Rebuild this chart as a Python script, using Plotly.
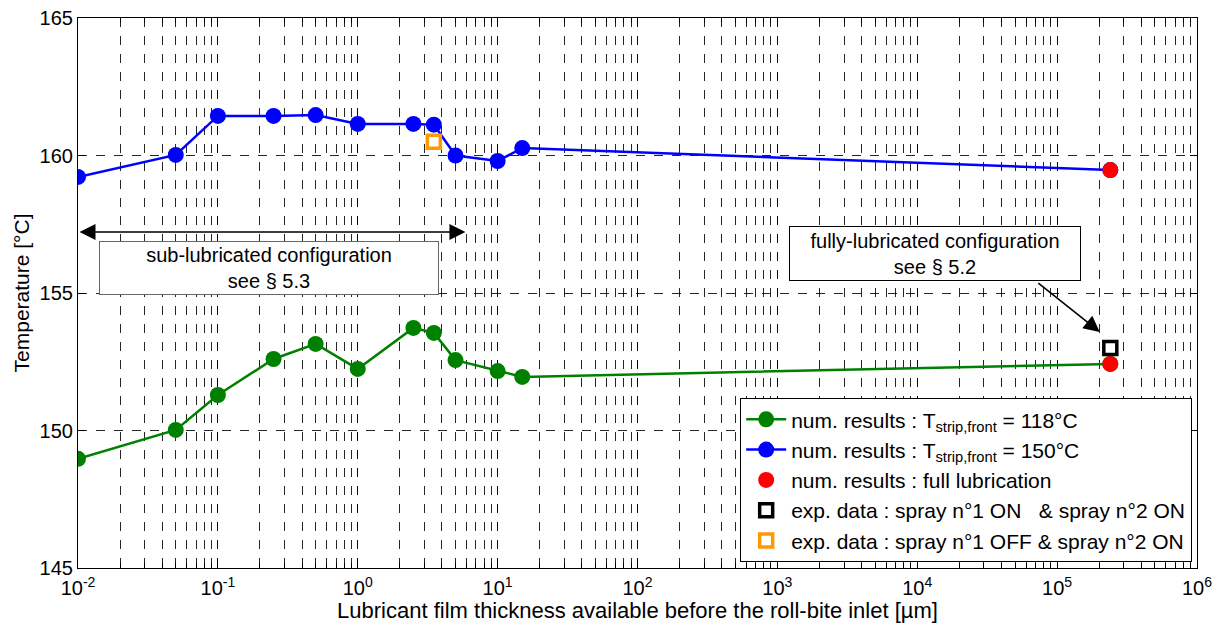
import plotly.graph_objects as go

# ---- data ----
thickness = [0.01, 0.05, 0.1, 0.25, 0.5, 1, 2.5, 3.5, 5, 10, 15, 2.4e5]
temp_118 = [148.97, 150.02, 151.29, 152.6, 153.15, 152.24, 153.73, 153.55, 152.56, 152.16, 151.95, 152.42]
temp_150 = [159.22, 160.02, 161.44, 161.44, 161.47, 161.15, 161.15, 161.12, 160.0, 159.8, 160.27, 159.47]
full_x = [2.4e5, 2.4e5]
full_y = [159.47, 152.42]
exp_on_x = [2.4e5]
exp_on_y = [153.0]
exp_off_x = [3.5]
exp_off_y = [160.5]
xtick_vals = [1e-2, 1e-1, 1e0, 1e1, 1e2, 1e3, 1e4, 1e5, 1e6]
xtick_text = ["10<sup>-2</sup>", "10<sup>-1</sup>", "10<sup>0</sup>", "10<sup>1</sup>",
              "10<sup>2</sup>", "10<sup>3</sup>", "10<sup>4</sup>", "10<sup>5</sup>", "10<sup>6</sup>"]
ytick_vals = [145, 150, 155, 160, 165]

FONT = "Liberation Sans, Arial, sans-serif"

fig = go.Figure()
fig.add_trace(go.Scatter(
    x=thickness, y=temp_118, mode="lines+markers",
    name="num. results : T<sub>strip,front</sub> = 118°C",
    line=dict(color="rgb(0,128,0)", width=2.5),
    marker=dict(color="rgb(0,128,0)", size=16, symbol="circle")))
fig.add_trace(go.Scatter(
    x=thickness, y=temp_150, mode="lines+markers",
    name="num. results : T<sub>strip,front</sub> = 150°C",
    line=dict(color="rgb(0,0,255)", width=2.5),
    marker=dict(color="rgb(0,0,255)", size=16, symbol="circle")))
fig.add_trace(go.Scatter(
    x=full_x, y=full_y, mode="markers",
    name="num. results : full lubrication",
    marker=dict(color="rgb(255,0,0)", size=16, symbol="circle")))
fig.add_trace(go.Scatter(
    x=exp_on_x, y=exp_on_y, mode="markers",
    name="exp. data : spray n°1 ON   & spray n°2 ON",
    marker=dict(color="black", size=13, symbol="square-open", line=dict(width=3.5, color="black"))))
fig.add_trace(go.Scatter(
    x=exp_off_x, y=exp_off_y, mode="markers",
    name="exp. data : spray n°1 OFF & spray n°2 ON",
    marker=dict(color="rgb(255,153,0)", size=13, symbol="square-open", line=dict(width=3.5, color="rgb(255,153,0)"))))

# annotations
fig.add_annotation(x=0.77, y=157.22, ax=-2, ay=157.22, xref="x", yref="y", axref="x", ayref="y",
                   text="", showarrow=True, arrowhead=2, arrowside="end+start",
                   arrowsize=2, arrowwidth=1.6, arrowcolor="black")
fig.add_annotation(x=-0.635, y=155.91, xref="x", yref="y",
                   text="sub-lubricated configuration<br>see § 5.3", showarrow=False,
                   font=dict(family=FONT, size=20, color="black"),
                   bgcolor="white", bordercolor="#666666", borderwidth=1,
                   width=336, height=50)
fig.add_annotation(x=5.305, y=153.58, ax=4.855, ay=155.4, xref="x", yref="y", axref="x", ayref="y",
                   text="", showarrow=True, arrowhead=2, arrowsize=2, arrowwidth=1.6, arrowcolor="black")
fig.add_annotation(x=4.126, y=156.44, xref="x", yref="y",
                   text="fully-lubricated configuration<br>see § 5.2", showarrow=False,
                   font=dict(family=FONT, size=20, color="black"),
                   bgcolor="white", bordercolor="black", borderwidth=1,
                   width=288, height=51)

grid_common = dict(gridcolor="rgba(0,0,0,0.85)", gridwidth=0.7, griddash="dash")

fig.update_xaxes(
    type="log", range=[-2, 6],
    tickvals=xtick_vals, ticktext=xtick_text,
    showgrid=True, **grid_common,
    ticks="inside", ticklen=7, tickcolor="black", tickwidth=1,
    showline=True, linecolor="black", linewidth=1.2, mirror="allticks",
    zeroline=False, ticklabeloverflow="allow", ticklabelstandoff=2,
    minor=dict(dtick="D1", showgrid=True, gridcolor="rgba(0,0,0,0.85)", gridwidth=0.7,
               griddash="dash", ticks="inside", ticklen=5, tickcolor="black"),
    tickfont=dict(family=FONT, size=20, color="black"),
    title=dict(text="Lubricant film thickness available before the roll-bite inlet [µm]",
               font=dict(family=FONT, size=22, color="black"), standoff=5),
)
fig.update_yaxes(
    range=[145, 165], tickvals=ytick_vals,
    showgrid=True, **grid_common,
    ticks="inside", ticklen=7, tickcolor="black", tickwidth=1,
    showline=True, linecolor="black", linewidth=1.2, mirror="allticks",
    zeroline=False, ticklabeloverflow="allow",
    tickfont=dict(family=FONT, size=20, color="black"),
    title=dict(text="Temperature [°C]", font=dict(family=FONT, size=21, color="black"), standoff=4),
)

fig.update_layout(
    width=1207, height=615,
    margin=dict(l=70, r=18, t=10, b=55, autoexpand=False),
    plot_bgcolor="white", paper_bgcolor="white",
    font=dict(family=FONT, size=20, color="black"),
    legend=dict(x=0.9955, y=0.011, xanchor="right", yanchor="bottom",
                bgcolor="white", bordercolor="black", borderwidth=1.2,
                font=dict(family=FONT, size=21, color="black"),
                tracegroupgap=0, itemwidth=40),
    showlegend=True,
)

fig.write_html("out.html")
